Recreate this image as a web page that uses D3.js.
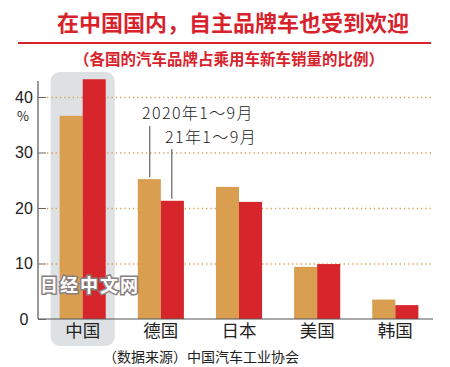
<!DOCTYPE html>
<html>
<head>
<meta charset="utf-8">
<script src="https://cdn.jsdelivr.net/npm/d3@7"></script>
<style>
  body { margin: 0; background: #fff; }
  svg { display: block; font-family: "Noto Sans CJK SC", "Noto Sans", sans-serif; }
</style>
</head>
<body>
<div id="chart"></div>
<script>
// Brand share of new passenger car sales, by country of brand (%)
const countries = ["中国", "德国", "日本", "美国", "韩国"];
const series = ["2020年1～9月", "21年1～9月"];
const values2020 = [36.6, 25.2, 23.8, 9.4, 3.5];
const values2021 = [43.2, 21.3, 21.1, 9.9, 2.5];
const yTicks = [0, 10, 20, 30, 40];

const colorOrange = "#d99e50";
const colorRed = "#d7262b";
const colorTitle = "#d8222b";

const width = 450, height = 367;
const marginLeft = 38, marginBottom = 48;

const svg = d3.select("#chart").append("svg")
    .attr("width", width)
    .attr("height", height);

// Scales
const x = d3.scaleBand()
    .domain(countries)
    .range([44, 434])
    .paddingInner(0.41)
    .paddingOuter(0.2);

const xs = d3.scaleBand()
    .domain(series)
    .range([0, x.bandwidth()]);

const y = d3.scaleLinear()
    .domain([0, 40])
    .range([height - marginBottom, 97]);

// Highlight behind China
svg.append("rect")
    .attr("x", x("中国") - 9)
    .attr("y", 72)
    .attr("width", x.bandwidth() + 18)
    .attr("height", 346 - 72)
    .attr("rx", 9)
    .attr("fill", "#dde1e3");

// Title
svg.append("text")
    .attr("x", 233)
    .attr("y", 31)
    .attr("text-anchor", "middle")
    .attr("font-size", "22px")
    .attr("font-weight", "bold")
    .attr("fill", colorTitle)
    .text("在中国国内，自主品牌车也受到欢迎");

svg.append("line")
    .attr("x1", 18).attr("x2", 431)
    .attr("y1", 43).attr("y2", 43)
    .attr("stroke", colorTitle)
    .attr("stroke-width", 2);

svg.append("text")
    .attr("x", 229)
    .attr("y", 65)
    .attr("text-anchor", "middle")
    .attr("font-size", "15.5px")
    .attr("font-weight", "bold")
    .attr("fill", colorTitle)
    .text("（各国的汽车品牌占乘用车新车销量的比例）");

// Grid lines
svg.append("g")
  .selectAll("line")
  .data(yTicks.filter(d => d > 0))
  .join("line")
    .attr("x1", 47)
    .attr("x2", 432)
    .attr("y1", d => y(d) + 0.5)
    .attr("y2", d => y(d) + 0.5)
    .attr("stroke", colorOrange)
    .attr("stroke-width", 1.3)
    .attr("stroke-dasharray", "1.3,3");

// Bars
const groups = svg.append("g")
  .selectAll("g")
  .data(countries.map((c, i) => ({c, v: [values2020[i], values2021[i]]})))
  .join("g")
    .attr("transform", d => `translate(${x(d.c)},0)`);

groups.selectAll("rect")
  .data(d => d.v.map((v, j) => ({s: series[j], v})))
  .join("rect")
    .attr("x", d => xs(d.s))
    .attr("y", d => y(d.v))
    .attr("width", xs.bandwidth())
    .attr("height", d => y(0) - y(d.v))
    .attr("fill", (d, j) => j === 0 ? colorOrange : colorRed);

// Axes
svg.append("line")
    .attr("x1", marginLeft).attr("x2", marginLeft)
    .attr("y1", 81).attr("y2", y(0))
    .attr("stroke", "#555").attr("stroke-width", 1.2);
svg.append("line")
    .attr("x1", marginLeft).attr("x2", 433)
    .attr("y1", y(0)).attr("y2", y(0))
    .attr("stroke", "#555").attr("stroke-width", 1.2);

svg.append("g")
    .attr("transform", `translate(${marginLeft},0)`)
    .call(d3.axisLeft(y).tickValues(yTicks).tickSize(-8).tickPadding(15))
    .call(g => g.select(".domain").remove())
    .call(g => g.selectAll(".tick line").attr("stroke", "#666"))
    .call(g => g.selectAll(".tick text")
        .attr("text-anchor", "middle")
        .attr("dx", "1")
        .attr("font-size", "16px")
        .attr("font-family", "'Liberation Sans Narrow', 'Liberation Sans', sans-serif")
        .attr("fill", "#222"));

svg.append("text")
    .attr("x", 23)
    .attr("y", 121)
    .attr("text-anchor", "middle")
    .attr("font-size", "13px")
    .attr("fill", "#222")
    .text("%");

svg.append("g")
    .attr("transform", `translate(0,${y(0)})`)
    .call(d3.axisBottom(x).tickSize(0).tickPadding(6))
    .call(g => g.select(".domain").remove())
    .call(g => g.selectAll(".tick text")
        .attr("font-size", "17.5px")
        .attr("font-family", "'Noto Sans CJK SC', sans-serif")
        .attr("fill", "#222"));

// Series annotations
svg.append("text")
    .attr("x", 142).attr("y", 119)
    .attr("font-size", "16px")
    .attr("font-weight", 300)
    .attr("letter-spacing", "1.4px")
    .attr("fill", "#222")
    .text(series[0]);
svg.append("text")
    .attr("x", 165).attr("y", 143)
    .attr("font-size", "16px")
    .attr("font-weight", 300)
    .attr("letter-spacing", "1.4px")
    .attr("fill", "#222")
    .text(series[1]);

svg.append("line")
    .attr("x1", x("德国") + xs(series[0]) + 12).attr("x2", x("德国") + xs(series[0]) + 12)
    .attr("y1", 126).attr("y2", y(values2020[1]) - 2)
    .attr("stroke", "#444");
svg.append("line")
    .attr("x1", x("德国") + xs(series[1]) + 11).attr("x2", x("德国") + xs(series[1]) + 11)
    .attr("y1", 149).attr("y2", y(values2021[1]) - 2)
    .attr("stroke", "#444");

// Watermark
svg.append("text")
    .attr("x", 40).attr("y", 292)
    .attr("font-size", "18px")
    .attr("font-weight", "bold")
    .attr("fill", "#fff")
    .attr("stroke", "#8a7f7f")
    .attr("stroke-width", 3)
    .attr("paint-order", "stroke")
    .attr("letter-spacing", "2px")
    .text("日经中文网");

// Source
svg.append("text")
    .attr("x", 103).attr("y", 362)
    .attr("font-size", "14px")
    .attr("fill", "#222")
    .text("（数据来源）中国汽车工业协会");
</script>
</body>
</html>
